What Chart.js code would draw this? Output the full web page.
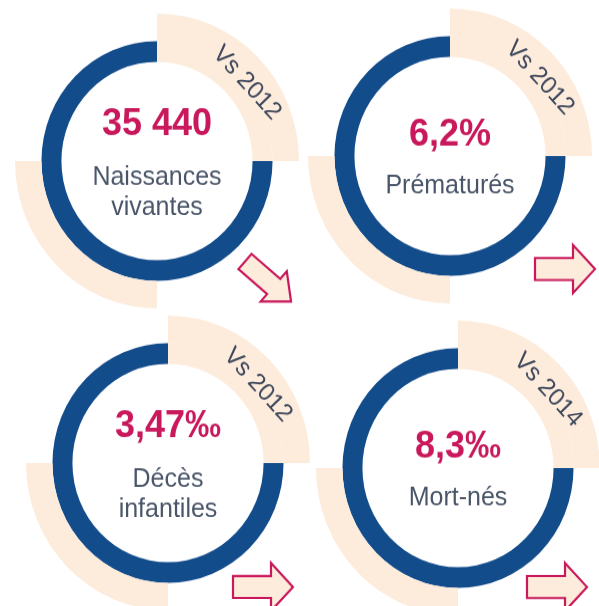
<!DOCTYPE html>
<html lang="fr">
<head>
<meta charset="utf-8">
<script src="https://cdn.jsdelivr.net/npm/chart.js@4"></script>
<style>
  html, body { margin: 0; padding: 0; background: #fff; }
  #page { position: relative; width: 599px; height: 606px; overflow: hidden; }
  .anneau { position: absolute; width: 300px; height: 300px; transform: scaleY(1.038); }
</style>
</head>
<body>
<div id="page"></div>
<script>
// données
const valeurs = ["35 440", "6,2%", "3,47‰", "8,3‰"];
const libelles = [["Naissances", "vivantes"], ["Prématurés"], ["Décès", "infantiles"], ["Mort-nés"]];
const comparaisons = ["Vs 2012", "Vs 2012", "Vs 2012", "Vs 2014"];
const tendances = ["baisse", "stable", "stable", "stable"];
const quartsExterieurs = [25, 25, 25, 25];
const quartsInterieurs = [25, 75];

// mise en page
const centres = [[156.5, 161], [450.3, 156], [168.3, 463], [457.8, 468]];
const departsFleches = [[88, 100.5], [85, 113], [65, 124], [69, 119]];
const K = 1.038; // l'image d'origine est un peu étirée en hauteur

const BLEU = "#134c8b";
const PECHE = "#fdebdb";
const ROSE = "#c9195c";
const GRIS = "#4a5569";
const POLICE = "'Liberation Sans', Arial, sans-serif";

function fleche(ctx, x, y, angle, L, demiCorps, demiTete, tete) {
  ctx.save();
  ctx.translate(x, y);
  ctx.scale(1, 1 / K);
  ctx.rotate(angle * Math.PI / 180);
  ctx.beginPath();
  ctx.moveTo(0, -demiCorps);
  ctx.lineTo(L - tete, -demiCorps);
  ctx.lineTo(L - tete, -demiTete);
  ctx.lineTo(L, 0);
  ctx.lineTo(L - tete, demiTete);
  ctx.lineTo(L - tete, demiCorps);
  ctx.lineTo(0, demiCorps);
  ctx.closePath();
  ctx.fillStyle = PECHE;
  ctx.fill();
  ctx.lineWidth = 2.2;
  ctx.strokeStyle = ROSE;
  ctx.stroke();
  ctx.restore();
}

const habillage = {
  id: "habillage",
  afterDraw(chart, args, opts) {
    const i = opts.index;
    const ctx = chart.ctx;
    const arc = chart.getDatasetMeta(0).data[0];
    const cx = arc.x, cy = arc.y;
    const deuxLignes = libelles[i].length > 1;

    ctx.save();
    ctx.textAlign = "center";
    ctx.textBaseline = "alphabetic";
    ctx.fillStyle = ROSE;
    ctx.font = "bold 36px " + POLICE;
    ctx.fillText(valeurs[i], cx, cy + (deuxLignes ? -26 : -10) / K);
    ctx.fillStyle = GRIS;
    ctx.font = "25px " + POLICE;
    libelles[i].forEach((l, j) => {
      ctx.fillText(l, cx, cy + ((deuxLignes ? 24 : 37) + 30 * j) / K);
    });

    ctx.translate(cx + 90, cy - 78 / K);
    ctx.rotate(47 * Math.PI / 180);
    ctx.textBaseline = "middle";
    ctx.fillStyle = "#3e485c";
    ctx.font = "24px " + POLICE;
    ctx.fillText(comparaisons[i], 0, 0);
    ctx.restore();

    const [dx, dy] = departsFleches[i];
    if (tendances[i] === "baisse") {
      fleche(ctx, cx + dx, cy + dy / K, 41, 61, 10, 20, 23);
    } else {
      fleche(ctx, cx + dx, cy + dy / K, 0, 60, 11, 24, 22);
    }
  }
};

const page = document.getElementById("page");
valeurs.forEach((v, i) => {
  const $c = document.createElement("canvas");
  $c.className = "anneau";
  $c.width = 300;
  $c.height = 300;
  $c.style.left = (centres[i][0] - 150) + "px";
  $c.style.top = (centres[i][1] - 150) + "px";
  page.appendChild($c);

  new Chart($c, {
    type: "doughnut",
    data: {
      labels: ["a", "b", "c", "d"],
      datasets: [
        {
          data: quartsExterieurs,
          backgroundColor: [PECHE, "rgba(0,0,0,0)", PECHE, "rgba(0,0,0,0)"],
          borderWidth: 0,
          weight: 26.5,
        },
        {
          data: quartsInterieurs,
          backgroundColor: [PECHE, BLEU],
          borderWidth: 0,
          weight: 20,
        },
      ],
    },
    options: {
      responsive: false,
      animation: false,
      events: [],
      cutout: "67.3%",
      layout: { padding: 8 },
      plugins: {
        legend: { display: false },
        tooltip: { enabled: false },
        habillage: { index: i },
      },
    },
    plugins: [habillage],
  });
});
</script>
</body>
</html>
